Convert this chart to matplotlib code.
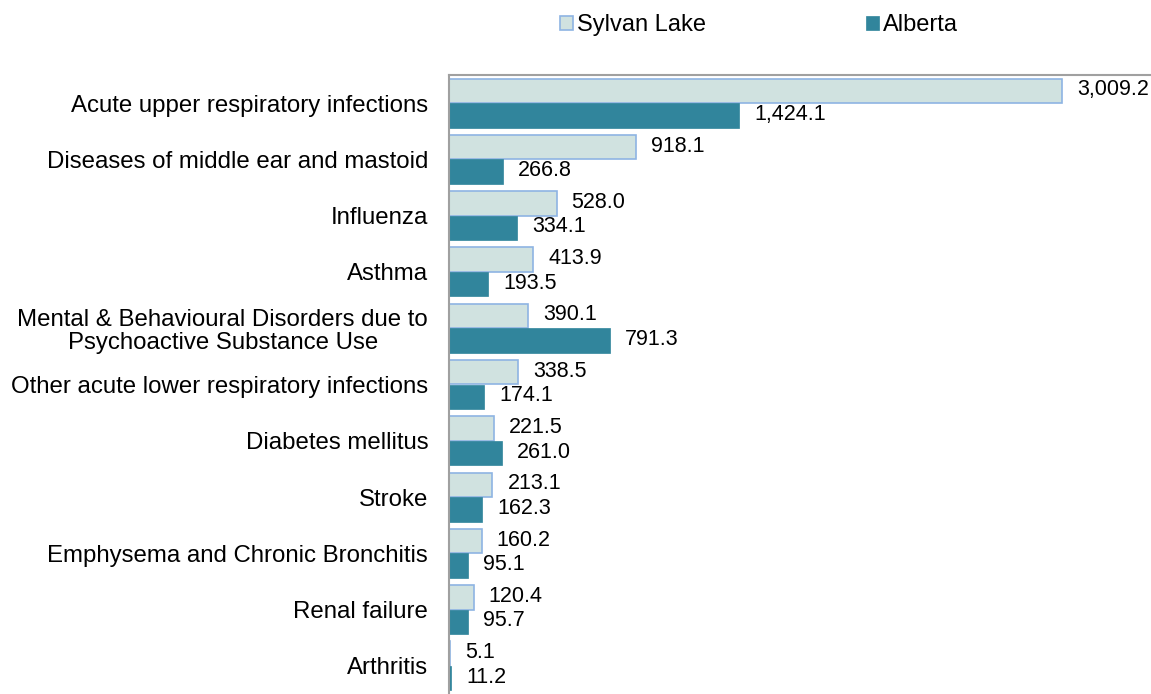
import matplotlib
matplotlib.use("Agg")
import matplotlib.pyplot as plt
import numpy as np

categories = [
    "Acute upper respiratory infections",
    "Diseases of middle ear and mastoid",
    "Influenza",
    "Asthma",
    "Mental & Behavioural Disorders due to\nPsychoactive Substance Use",
    "Other acute lower respiratory infections",
    "Diabetes mellitus",
    "Stroke",
    "Emphysema and Chronic Bronchitis",
    "Renal failure",
    "Arthritis",
]
sylvan_lake = [3009.2, 918.1, 528.0, 413.9, 390.1, 338.5, 221.5, 213.1, 160.2, 120.4, 5.1]
alberta = [1424.1, 266.8, 334.1, 193.5, 791.3, 174.1, 261.0, 162.3, 95.1, 95.7, 11.2]
series_names = ["Sylvan Lake", "Alberta"]

plt.rcParams['font.family'] = ['Liberation Sans', 'DejaVu Sans']

W, H = 1151, 694
fig = plt.figure(figsize=(W / 100, H / 100), dpi=100)
ax = fig.add_axes([449 / W, 0.0, 1 - 449 / W, 1 - 75 / H])

y = np.arange(len(categories))
h = 0.435
light = "#D0E2E0"
light_edge = "#8EB4E3"
dark = "#31859C"

b1 = ax.barh(y - h / 2, sylvan_lake, height=h, color=light, edgecolor=light_edge,
             linewidth=1.2, label=series_names[0])
b2 = ax.barh(y + h / 2, alberta, height=h, color=dark, edgecolor=dark,
             linewidth=0.5, label=series_names[1])

fs_cat = 17.3
fs_val = 15.5
for bars, vals in ((b1, sylvan_lake), (b2, alberta)):
    for bar, v in zip(bars, vals):
        ax.annotate(f"{v:,.1f}", (bar.get_width(), bar.get_y() + bar.get_height() / 2),
                    xytext=(15, 1), textcoords="offset pixels",
                    ha="left", va="center", fontsize=fs_val, color="black")

ax.set_ylim(len(categories) - 0.5, -0.5)
ax.set_xlim(0, 3446)
ax.set_yticks(y)
ax.set_yticklabels(categories, fontsize=fs_cat, ha="right", multialignment="center",
                   linespacing=1.1)
ax.tick_params(axis="y", length=0, pad=15)
ax.tick_params(axis="x", bottom=False, labelbottom=False)

for s in ("right", "bottom"):
    ax.spines[s].set_visible(False)
ax.spines["left"].set_color("#A0A0A0")
ax.spines["top"].set_color("#A0A0A0")
ax.spines["left"].set_linewidth(1.5)
ax.spines["top"].set_linewidth(1.5)

fig.legend(handles=[b1, b2], labels=series_names, loc="center",
           bbox_to_anchor=(759 / W, 1 - 25 / H), ncol=2, frameon=False,
           fontsize=17, handlelength=0.55, handleheight=0.55, handletextpad=0.2,
           columnspacing=6.75)

fig.savefig("out.png", dpi=100)
